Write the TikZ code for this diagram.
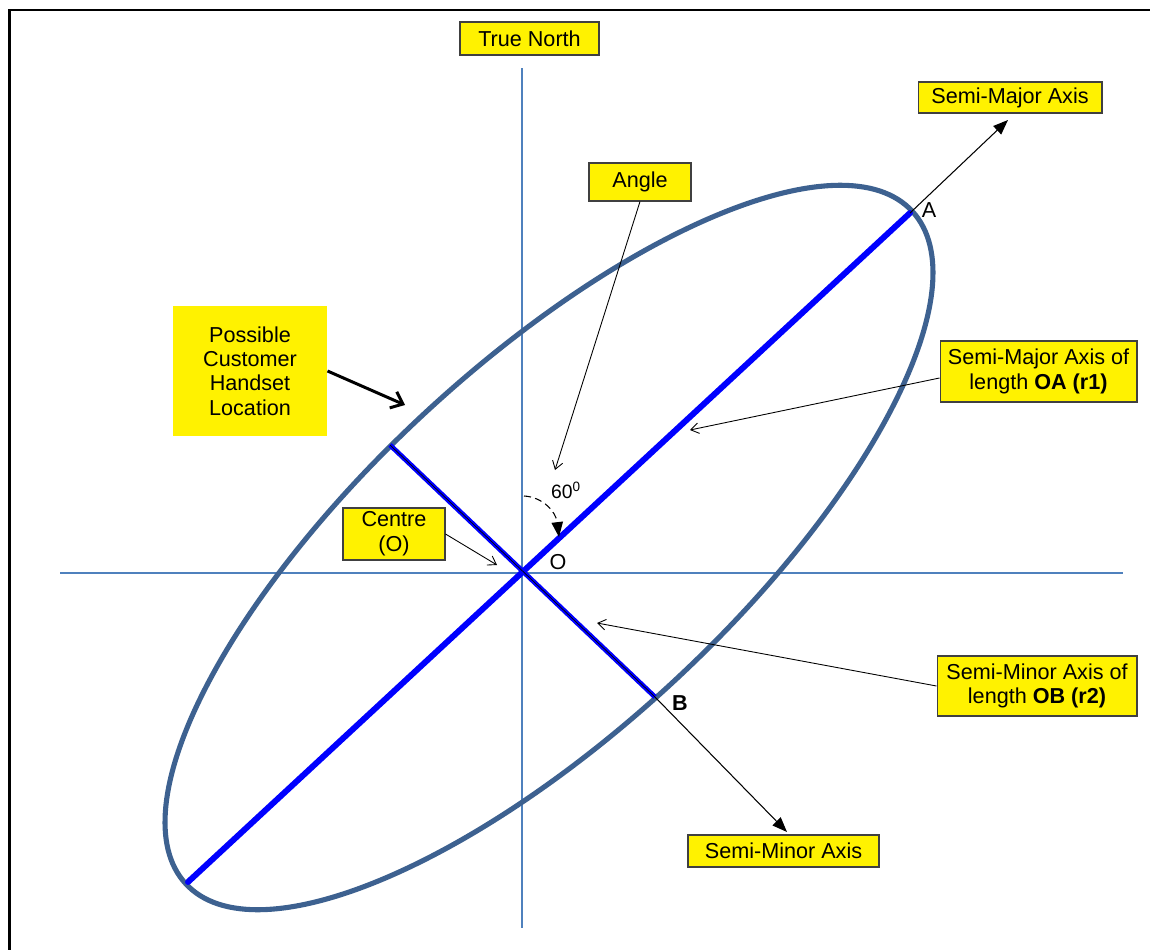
\documentclass[tikz,border=0pt]{standalone}
\usepackage{fontspec}
\setmainfont{Liberation Sans}
\usetikzlibrary{arrows.meta}
\definecolor{axisblue}{HTML}{4F81BD}
\definecolor{ellblue}{HTML}{3D6190}
\begin{document}
\begin{tikzpicture}[x=0.02cm,y=-0.02cm,
  ybox/.style={fill=yellow, draw=black!75, line width=0.6pt, inner sep=0pt, align=center, font=\fontsize{12.3}{13.8}\selectfont},
  axisline/.style={axisblue, line width=1.4pt},
  thinarrow/.style={black, line width=0.5pt, -{Straight Barb[length=4.5pt,width=6pt]}},
  pointer/.style={black, line width=0.6pt, -{Triangle[length=8.5pt,width=6.5pt]}},
  lbl/.style={font=\fontsize{12.3}{14}\selectfont, inner sep=0pt}]
\useasboundingbox (0,0) rectangle (1150,950);
\fill[white] (0,0) rectangle (1150,950);
% frame
\draw[line width=1.7pt] (9.5,950) -- (9.5,10) -- (1150,10);
% key points
\coordinate (O) at (522,573);
\coordinate (N) at (522,68);
\coordinate (S) at (522,928);
\coordinate (W) at (60,573);
\coordinate (E) at (1123,573);
\coordinate (A) at (910,213);
\coordinate (A2) at (188,882);
\coordinate (B) at (655,697);
\coordinate (B2) at (390,445);
% axes
\draw[axisline] (N) -- (S);
\draw[axisline] (W) -- (E);
% ellipse
\draw[ellblue, line width=2.9pt, rotate around={42.8:(549,547.5)}] (549,547.5) ellipse [x radius=495, y radius=183];
% major and minor axes
\draw[blue, line width=3.4pt, line cap=round] (A2) -- (A);
\draw[blue, line width=2.8pt] (B2) -- (B);
\draw[black, line width=0.4pt] (B2) -- (B);
% pointers out of A and B
\coordinate (SMAtip) at (1008,120);
\coordinate (SMItip) at (787,832);
\draw[pointer] (A) -- (SMAtip);
\draw[pointer] (B) -- (SMItip);
% boxes
\node[ybox, minimum width=2.78cm, minimum height=0.66cm] (TN) at (529.5,38.5) {True North};
\node[ybox, minimum width=3.68cm, minimum height=0.62cm] (SMA) at (1010,97.5) {Semi-Major Axis};
\node[ybox, minimum width=2.04cm, minimum height=0.76cm] (ANG) at (640,182) {Angle};
\node[ybox, draw=none, minimum width=3.08cm, minimum height=2.6cm] (PCH) at (250,371) {Possible\\Customer\\Handset\\Location};
\node[ybox, minimum width=2.04cm, minimum height=1.04cm, font=\fontsize{12.3}{14.2}\selectfont] (CEN) at (394,534) {Centre\\(O)};
\node[ybox, minimum width=3.94cm, minimum height=1.22cm] (SMAOF) at (1038.5,371.5) {Semi-Major Axis of\\length \textbf{OA (r1)}};
\node[ybox, minimum width=4.0cm, minimum height=1.2cm] (SMIOF) at (1037,686) {Semi-Minor Axis of\\length \textbf{OB (r2)}};
\node[ybox, minimum width=3.82cm, minimum height=0.64cm] (SMI) at (783.5,851) {Semi-Minor Axis};
% thin callout arrows
\coordinate (angtip) at (555,470);
\coordinate (centip) at (497,565);
\coordinate (oatip) at (690,430);
\coordinate (obtip) at (597,623);
\coordinate (pchtip) at (405,405);
\draw[thinarrow] (ANG.south) -- (angtip);
\draw[thinarrow] (CEN.east) -- (centip);
\draw[thinarrow] ([yshift=-0.13cm]SMAOF.west) -- (oatip);
\draw[thinarrow] (SMIOF.west) -- (obtip);
\draw[black, line width=1.7pt, -{Straight Barb[length=6pt,width=10pt]}] (PCH.east) -- (pchtip);
% angle arc
\coordinate (arcstart) at (524,496);
\coordinate (arcend) at (559,537);
\draw[black, line width=0.6pt, dash pattern=on 4pt off 2.5pt, -{Triangle[length=8.5pt,width=6.5pt]}] (arcstart) .. controls (543,497) and (556,512) .. (arcend);
% labels
\node[lbl, font=\fontsize{11}{13}\selectfont] (deg) at (566,490) {60\textsuperscript{0}};
\node[lbl] (lA) at (929,210) {A};
\node[lbl, font=\fontsize{12.3}{14}\selectfont\bfseries] (lB) at (680,703) {B};
\node[lbl] (lO) at (558,562) {O};
\end{tikzpicture}
\end{document}
